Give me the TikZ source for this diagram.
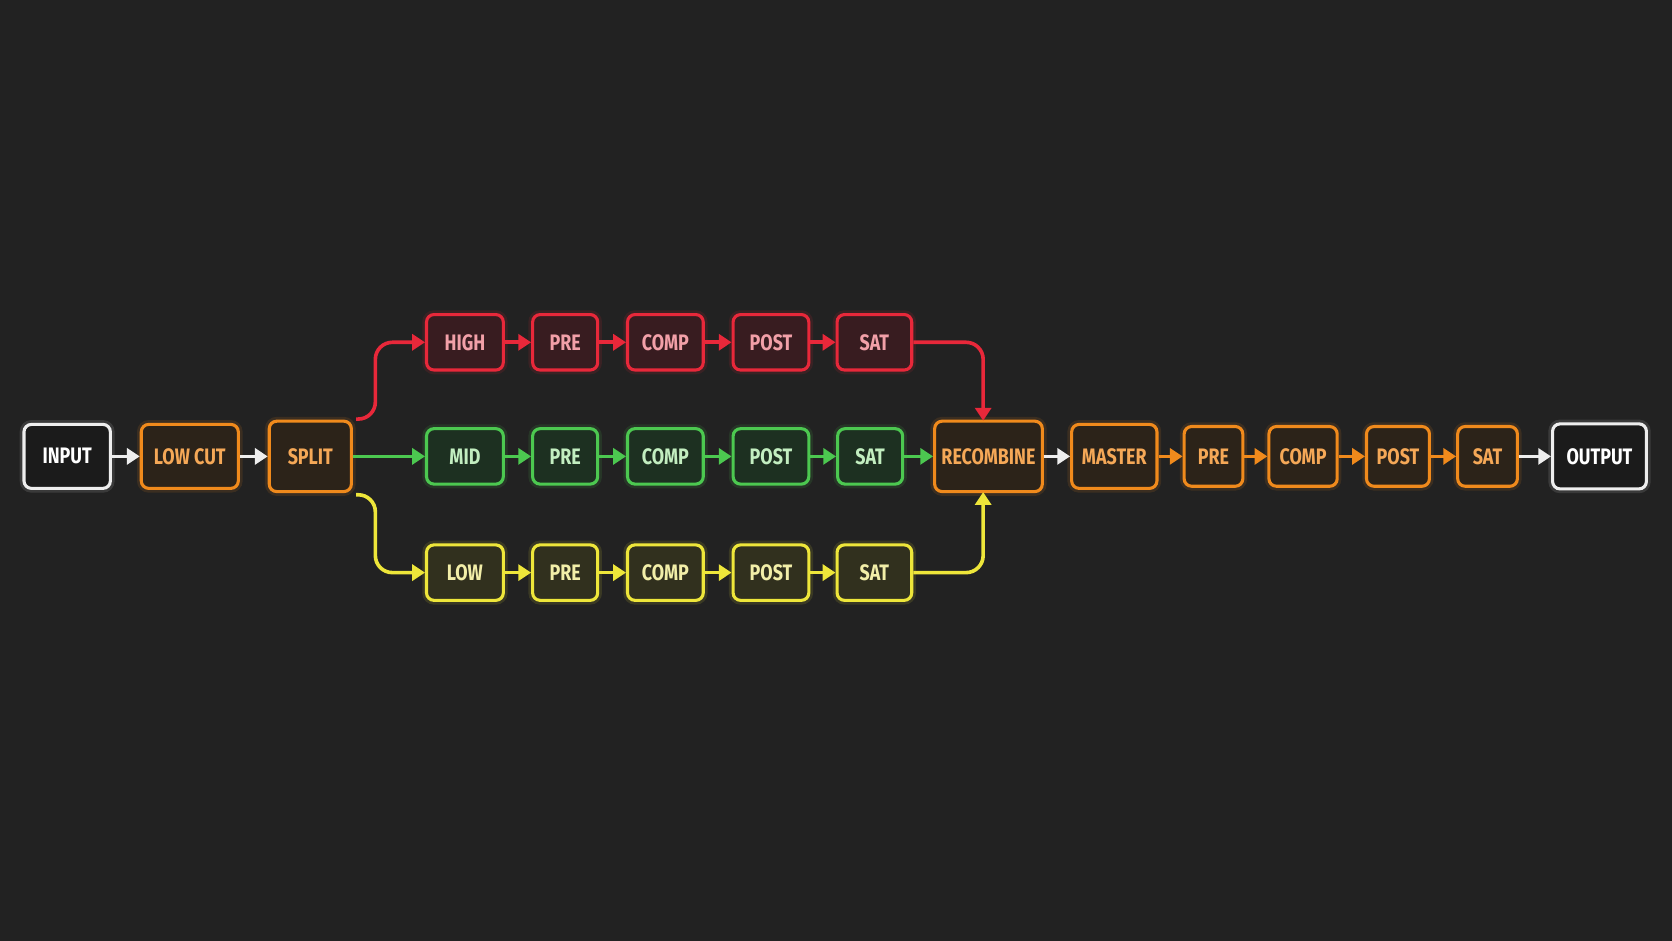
\documentclass[tikz,border=0pt]{standalone}
\usepackage{fontspec}
\newfontfamily\boxfont{Fira Sans}[FakeStretch=0.8]
\usetikzlibrary{arrows.meta}
\definecolor{bg}{HTML}{222222}
\definecolor{wline}{HTML}{EEEEEE}
\definecolor{wfill}{HTML}{1B1B1B}
\definecolor{oline}{HTML}{F08A1C}
\definecolor{ofill}{HTML}{2C2319}
\definecolor{otext}{HTML}{F5A857}
\definecolor{rline}{HTML}{E8283A}
\definecolor{rfill}{HTML}{381C20}
\definecolor{rtext}{HTML}{F2A0A8}
\definecolor{gline}{HTML}{4CC850}
\definecolor{gfill}{HTML}{1D3021}
\definecolor{gtext}{HTML}{C2EEC0}
\definecolor{yline}{HTML}{EEE63A}
\definecolor{yfill}{HTML}{31301E}
\definecolor{ytext}{HTML}{F2EEA8}
\tikzset{
  box/.style={draw, rounded corners=7pt, line width=2.9pt, inner sep=0pt,
    font=\boxfont\bfseries\fontsize{21}{21}\selectfont, align=center},
  wbox/.style={box, draw=wline, fill=wfill, text=white,
    preaction={draw=wline, line width=8pt, opacity=0.12}},
  obox/.style={box, draw=oline, fill=ofill, text=otext,
    preaction={draw=oline, line width=8pt, opacity=0.12}},
  rbox/.style={box, draw=rline, fill=rfill, text=rtext,
    preaction={draw=rline, line width=8pt, opacity=0.12}},
  gbox/.style={box, draw=gline, fill=gfill, text=gtext,
    preaction={draw=gline, line width=8pt, opacity=0.12}},
  ybox/.style={box, draw=yline, fill=yfill, text=ytext,
    preaction={draw=yline, line width=8pt, opacity=0.12}},
  conn/.style={line width=3.4pt, -{Triangle[length=12pt,width=15pt]}},
  wconn/.style={conn, draw=wline, fill=wline},
  oconn/.style={conn, draw=oline},
  rconn/.style={conn, draw=rline},
  gconn/.style={conn, draw=gline},
  yconn/.style={conn, draw=yline},
  sz/.style n args={2}{minimum width=#1pt, minimum height=#2pt}
}
\begin{document}
\begin{tikzpicture}[x=1pt,y=-1pt]
\fill[bg] (0,0) rectangle (1568,882);
\useasboundingbox (0,0) rectangle (1568,882);
% main row
\node[wbox, sz={81}{60}] (input) at (63,428) {INPUT};
\node[obox, sz={91}{60}] (lowcut) at (178,428) {LOW CUT};
\node[obox, sz={77}{66}] (split) at (291,428) {SPLIT};
% high row
\node[rbox, sz={72}{52}] (high) at (436,321) {HIGH};
\node[rbox, sz={61}{52}] (hpre) at (530,321) {PRE};
\node[rbox, sz={71}{52}] (hcomp) at (624,321) {COMP};
\node[rbox, sz={71}{52}] (hpost) at (723,321) {POST};
\node[rbox, sz={70}{52}] (hsat) at (820,321) {SAT};
% mid row
\node[gbox, sz={72}{52}] (mid) at (436,428) {MID};
\node[gbox, sz={61}{52}] (mpre) at (530,428) {PRE};
\node[gbox, sz={71}{52}] (mcomp) at (624,428) {COMP};
\node[gbox, sz={71}{52}] (mpost) at (723,428) {POST};
\node[gbox, sz={61}{52}] (msat) at (816,428) {SAT};
% low row
\node[ybox, sz={72}{52}] (low) at (436,537) {LOW};
\node[ybox, sz={61}{52}] (lpre) at (530,537) {PRE};
\node[ybox, sz={71}{52}] (lcomp) at (624,537) {COMP};
\node[ybox, sz={71}{52}] (lpost) at (723,537) {POST};
\node[ybox, sz={70}{52}] (lsat) at (820,537) {SAT};
% right part
\node[obox, sz={101}{66}] (recomb) at (927,428) {RECOMBINE};
\node[obox, sz={80}{60}] (master) at (1045,428) {MASTER};
\node[obox, sz={55}{56}] (opre) at (1138,428) {PRE};
\node[obox, sz={64}{56}] (ocomp) at (1222,428) {COMP};
\node[obox, sz={59}{56}] (opost) at (1311,428) {POST};
\node[obox, sz={56}{56}] (osat) at (1395,428) {SAT};
\node[wbox, sz={88}{61}] (output) at (1500,428) {OUTPUT};
% connectors main
\draw[wconn] (input) -- (lowcut);
\draw[wconn] (lowcut) -- (split);
\coordinate (sr) at (334,393);
\coordinate (sy) at (334,464);
\draw[rconn, rounded corners=16pt] (sr) -| (352,321) -- (high.west);
\draw[gconn] (split) -- (mid);
\draw[yconn, rounded corners=16pt] (sy) -| (352,537) -- (low.west);
% rows
\draw[rconn] (high) -- (hpre);
\draw[rconn] (hpre) -- (hcomp);
\draw[rconn] (hcomp) -- (hpost);
\draw[rconn] (hpost) -- (hsat);
\draw[gconn] (mid) -- (mpre);
\draw[gconn] (mpre) -- (mcomp);
\draw[gconn] (mcomp) -- (mpost);
\draw[gconn] (mpost) -- (msat);
\draw[yconn] (low) -- (lpre);
\draw[yconn] (lpre) -- (lcomp);
\draw[yconn] (lcomp) -- (lpost);
\draw[yconn] (lpost) -- (lsat);
% merge
\coordinate (rt) at (922,394.5);
\coordinate (yt) at (922,461.5);
\draw[rconn, rounded corners=16pt] (hsat.east) -| (rt);
\draw[gconn] (msat) -- (recomb);
\draw[yconn, rounded corners=16pt] (lsat.east) -| (yt);
% master chain
\draw[wconn] (recomb) -- (master);
\draw[oconn] (master) -- (opre);
\draw[oconn] (opre) -- (ocomp);
\draw[oconn] (ocomp) -- (opost);
\draw[oconn] (opost) -- (osat);
\draw[wconn] (osat) -- (output);
\end{tikzpicture}
\end{document}
